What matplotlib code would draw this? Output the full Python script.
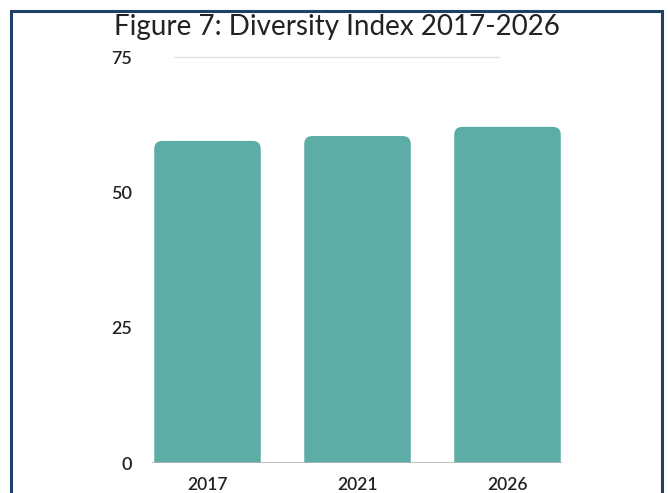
import matplotlib
matplotlib.use("Agg")
import matplotlib.pyplot as plt
from matplotlib.patches import FancyBboxPatch, Rectangle

years = ["2017", "2021", "2026"]
index_values = [59.5, 60.4, 62.1]
y_ticks = [0, 25, 50, 75]

BAR_COLOR = "#5bada6"
TEXT_COLOR = "#222222"
FRAME_COLOR = "#1d4266"

plt.rcParams["font.family"] = ["Lato", "DejaVu Sans"]

W, H = 668, 493
fig = plt.figure(figsize=(W / 100, H / 100), dpi=100)
ax = fig.add_axes([140 / W, (H - 463) / H, (575 - 140) / W, (463 - 57) / H])

ax.set_xlim(-0.45, 2.45)
ax.set_ylim(0, 75)

# rounded-top bars: box extends below zero so only the top corners show
bar_w = 0.71
fig.canvas.draw()
px_per_x = ax.transData.transform((1, 0))[0] - ax.transData.transform((0, 0))[0]
px_per_y = ax.transData.transform((0, 1))[1] - ax.transData.transform((0, 0))[1]
radius_px = 8
r_x = radius_px / px_per_x
r_y = radius_px / px_per_y
for i, v in enumerate(index_values):
    box = FancyBboxPatch((i - bar_w / 2, -5), bar_w, v + 5,
                         boxstyle="round,pad=0,rounding_size={}".format(r_x),
                         mutation_aspect=r_y / r_x,
                         facecolor=BAR_COLOR, edgecolor="none", zorder=2)
    ax.add_patch(box)

ax.hlines(0, -0.37, 2.36, color="#b5b5b5", linewidth=1.2, zorder=3)
ax.hlines(75, -0.23, 1.95, color="#e3e3e3", linewidth=1, zorder=1, clip_on=False)

ax.set_xticks(range(len(years)))
ax.set_xticklabels(years)
ax.set_yticks(y_ticks)
ax.tick_params(axis="x", length=0, pad=10, labelsize=12.5, labelcolor=TEXT_COLOR)
ax.tick_params(axis="y", length=0, pad=6, labelsize=13, labelcolor=TEXT_COLOR)
for lbl in ax.get_xticklabels() + ax.get_yticklabels():
    lbl.set_fontweight("semibold")
for s in ax.spines.values():
    s.set_visible(False)

fig.text(337 / W, 1 - 27 / H, "Figure 7: Diversity Index 2017-2026",
         ha="center", va="center", fontsize=20, color=TEXT_COLOR)

# navy frame around the figure, open at the bottom edge
fig.patches.append(Rectangle((11 / W, -0.05), (661.5 - 11) / W, 1.05 - 11 / H,
                             transform=fig.transFigure, fill=False,
                             edgecolor=FRAME_COLOR, linewidth=2.2))

fig.savefig("out.png", dpi=100)
